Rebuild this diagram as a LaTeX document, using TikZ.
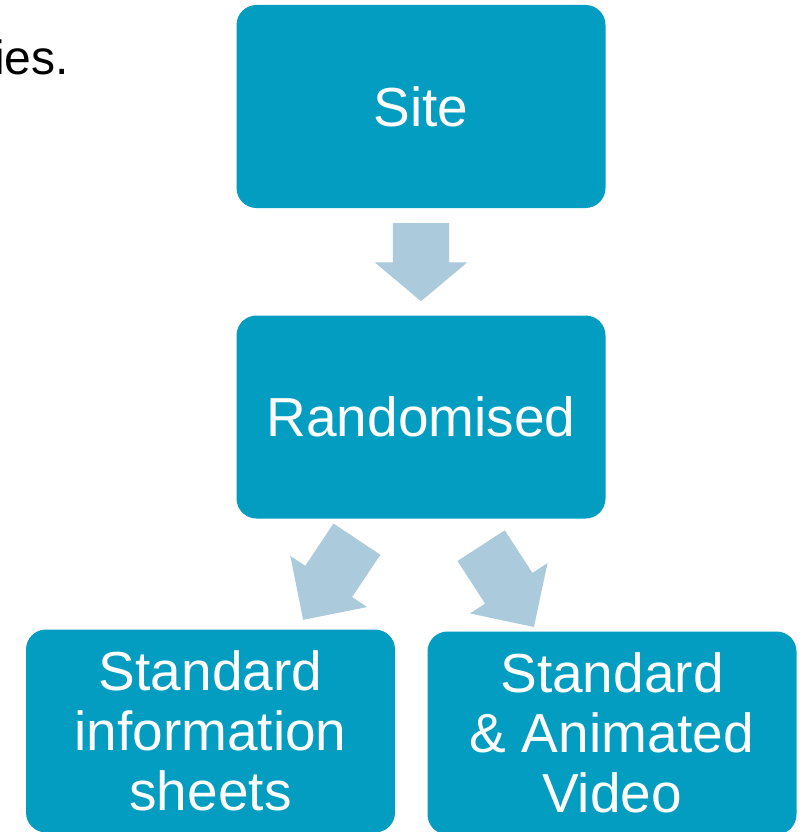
\documentclass[tikz,border=0pt]{standalone}
\usepackage{fontspec}
\setmainfont{Liberation Sans}
\usetikzlibrary{shapes.arrows}
\definecolor{boxteal}{RGB}{2,157,192}
\definecolor{arrowblue}{RGB}{171,203,220}
\begin{document}
\begin{tikzpicture}
[x=1pt,y=-1pt,
box/.style={fill=boxteal,rounded corners=20pt,text=white,align=center,
  minimum width=369pt,minimum height=203pt,inner sep=0pt,
  font=\fontsize{55}{60}\selectfont},
blockarrow/.style={single arrow,fill=arrowblue,draw=none,inner xsep=0pt,
  inner ysep=28pt,single arrow head extend=18pt,minimum height=#1,anchor=tail},]

\useasboundingbox (0,0) rectangle (805,832);

%Text cut at the left edge
\node (txt) at (-6,75)[anchor=base west,inner sep=0pt,font=\fontsize{48}{52}\selectfont] {ies.};

%Boxes
\node (site) at (421,106.5)[box] {Site};
\node (rand) at (421,417)[box] {Randomised};
\node (info) at (210.5,731)[box] {Standard\\information\\sheets};
\node (video) at (612,733)[box] {Standard\\\&~Animated\\Video};

%Arrows
\node (down) at (421,223)[blockarrow=78pt,single arrow tip angle=100,rotate=-90] {};
\node (left) at (357,539)[blockarrow=97pt,single arrow tip angle=90,rotate=236.3] {};
\node (right) at (481,545.5)[blockarrow=97pt,single arrow tip angle=90,rotate=-57] {};

\end{tikzpicture}
\end{document}
